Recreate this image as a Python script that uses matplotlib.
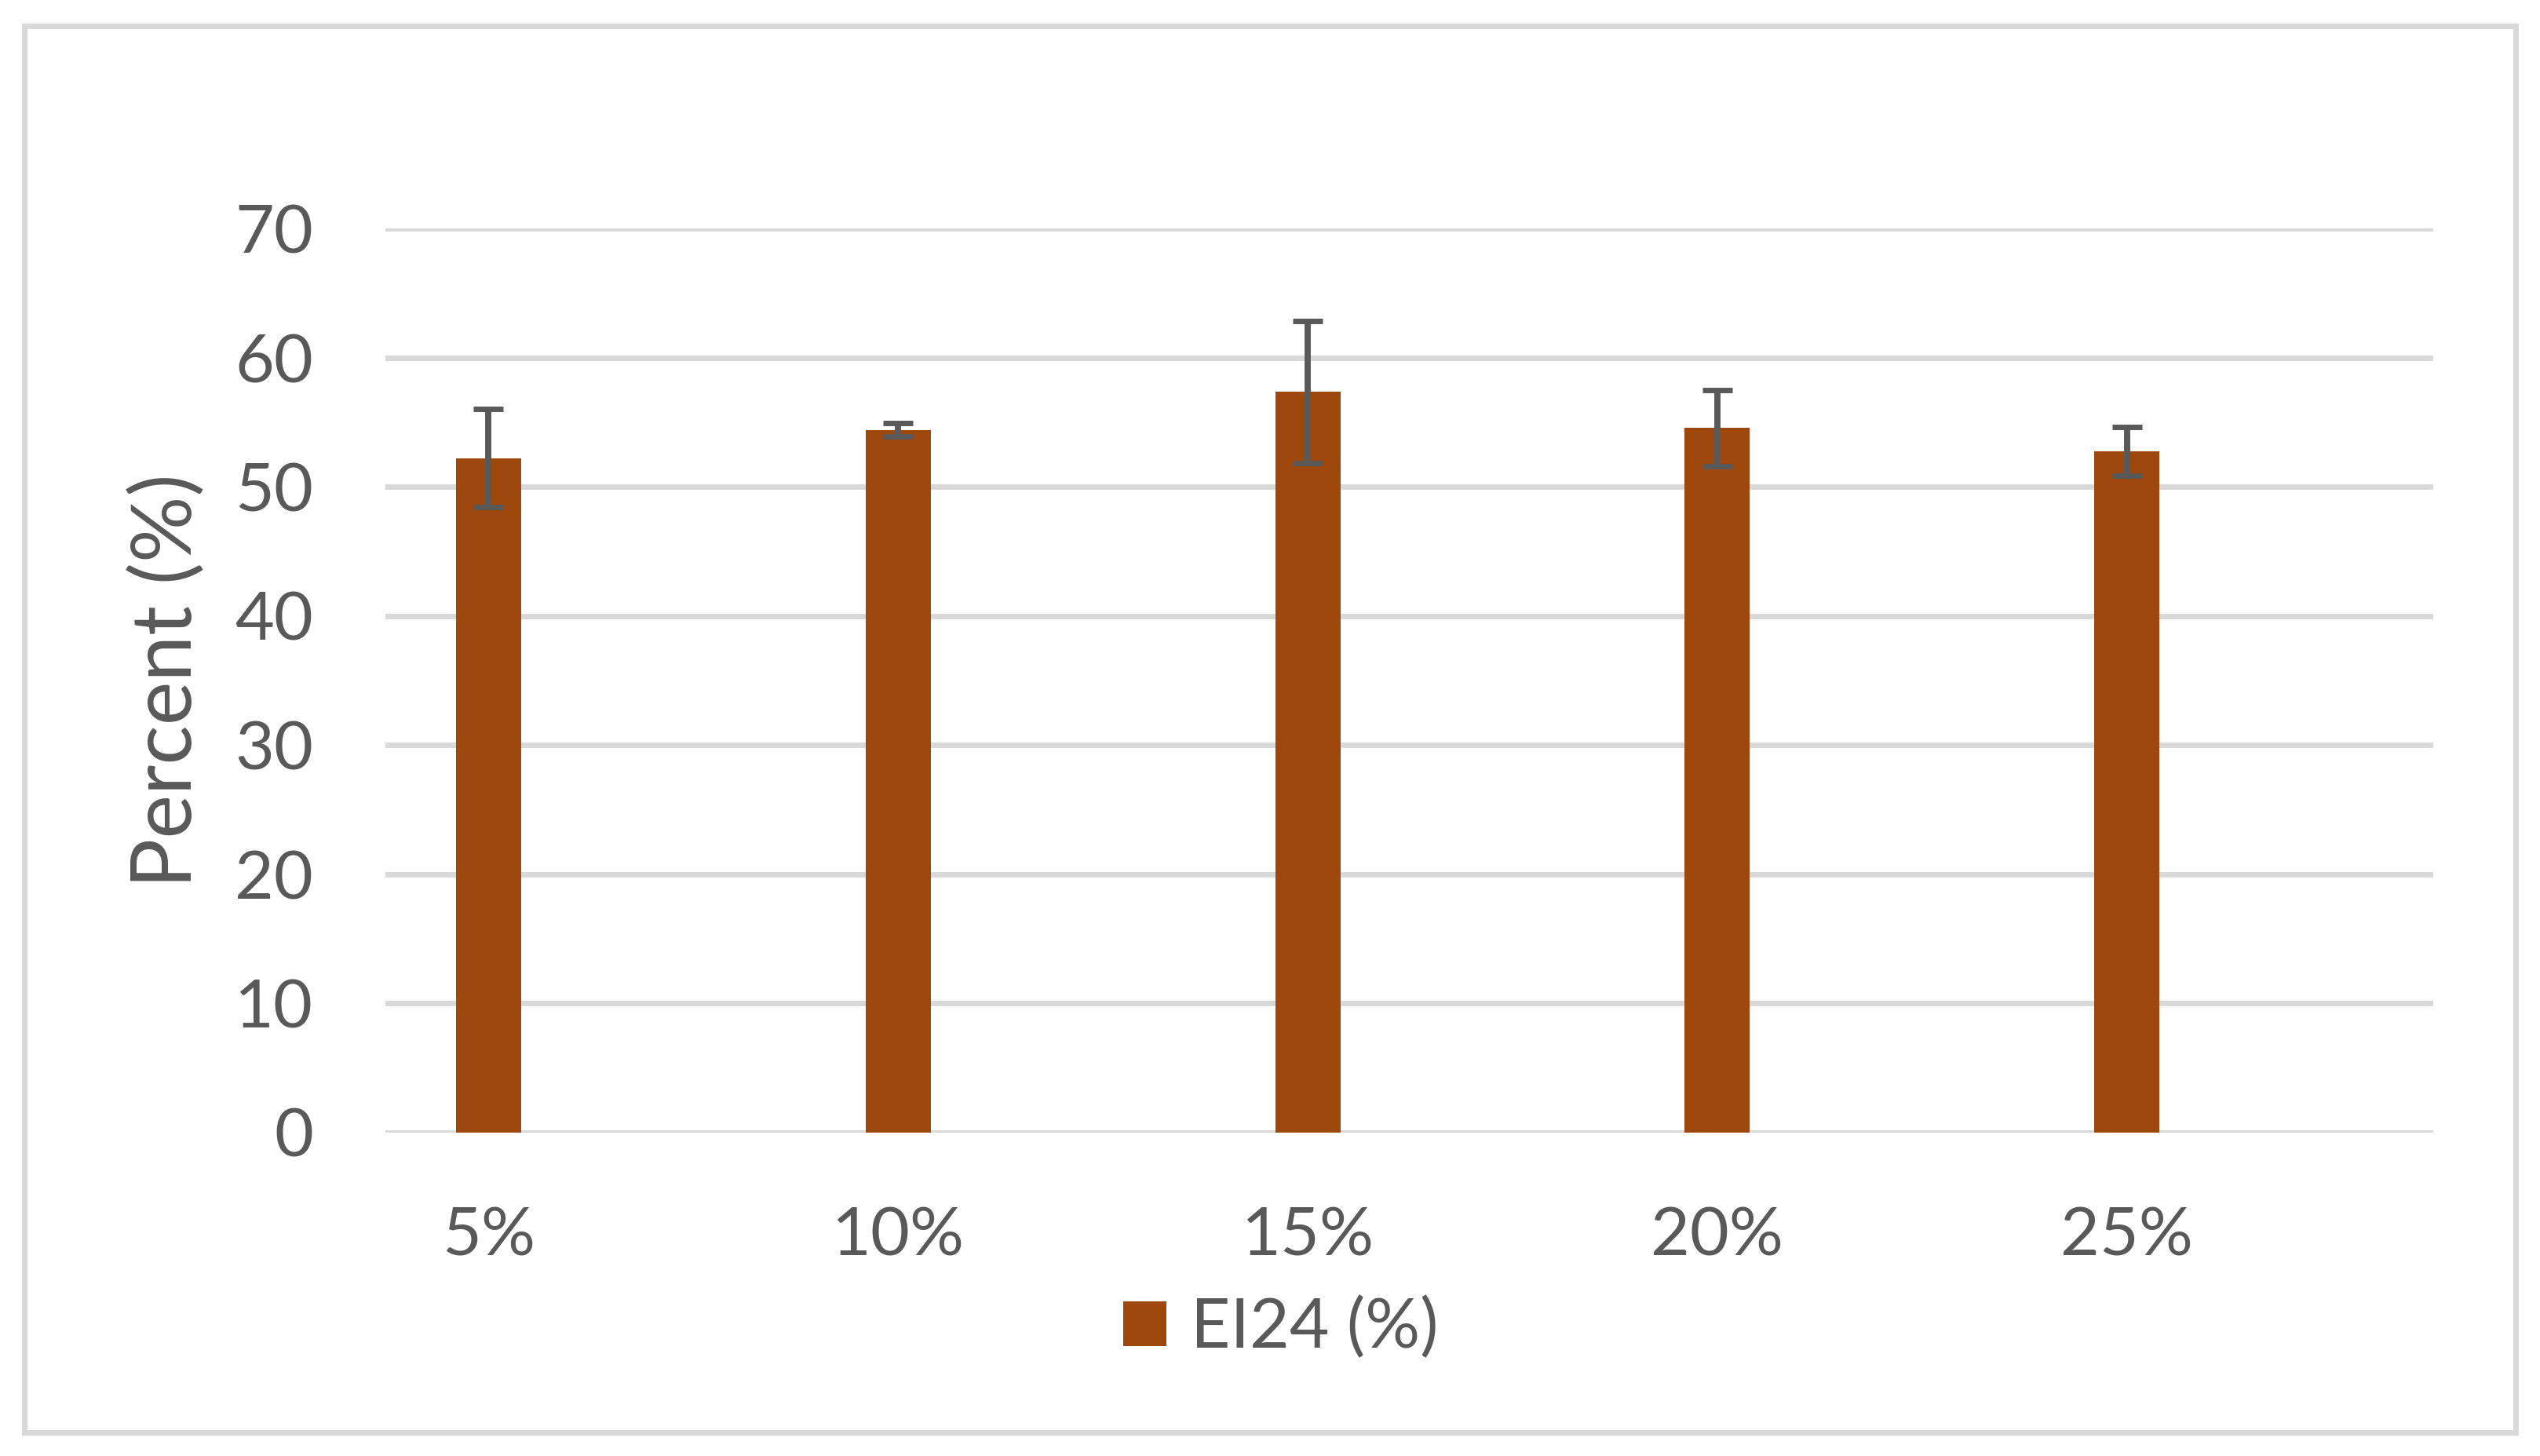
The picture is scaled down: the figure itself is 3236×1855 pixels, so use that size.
import matplotlib.pyplot as plt
from matplotlib.patches import Rectangle

categories = ["5%", "10%", "15%", "20%", "25%"]
ei24 = [52.2, 54.4, 57.35, 54.55, 52.75]
ei24_err = [3.8, 0.5, 5.5, 2.95, 1.9]
yticks = [0, 10, 20, 30, 40, 50, 60, 70]

plt.rcParams['font.family'] = ['Lato', 'DejaVu Sans']
text_col = '#595959'
grid_col = '#D9D9D9'

W, H = 3237, 1855
fig = plt.figure(figsize=(W / 100, H / 100), dpi=100)
ax = fig.add_axes([491 / W, 1 - 1442.5 / H, (3100 - 491) / W, (1442.5 - 291) / H])

xpos = [i + 0.252 for i in range(len(categories))]
ax.bar(xpos, ei24, width=0.159, color='#9E480E', label='EI24 (%)', zorder=2)
ax.errorbar(xpos, ei24, yerr=ei24_err, fmt='none', ecolor=text_col,
            elinewidth=5.7, capsize=14, capthick=5, zorder=3)

ax.set_xlim(0, 5)
ax.set_ylim(0, 70)
ax.set_yticks(yticks)
ax.set_xticks(xpos)
ax.set_xticklabels(categories)
ax.yaxis.grid(True, color=grid_col, linewidth=5, zorder=0)
ax.set_axisbelow(True)
for s in ax.spines.values():
    s.set_visible(False)
ax.tick_params(axis='both', length=0, labelsize=62, labelcolor=text_col)
ax.tick_params(axis='y', pad=66)
ax.tick_params(axis='x', pad=68)

ax.set_ylabel('Percent (%)', fontsize=76, color=text_col)
ax.yaxis.set_label_coords(-0.0878, 0.5)

fig.legend(loc='center', bbox_to_anchor=(1632 / W, 1 - 1692 / H), frameon=False,
           fontsize=63, labelcolor=text_col, handlelength=0.63, handleheight=0.63,
           handletextpad=0.35)

fig.patches.append(Rectangle((30.5 / W, 1 - 1824.5 / H), (3205.5 - 30.5) / W,
                             (1824.5 - 32.5) / H, transform=fig.transFigure,
                             fill=False, edgecolor=grid_col, linewidth=5))

fig.savefig('out.png', dpi=100, facecolor='white')
